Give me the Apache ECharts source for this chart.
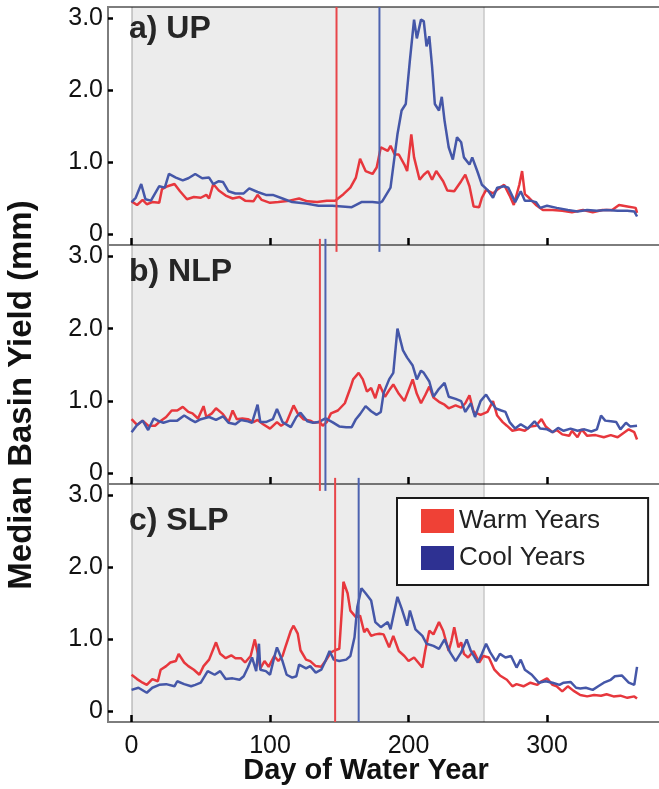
<!DOCTYPE html>
<html>
<head>
<meta charset="utf-8">
<script src="https://cdn.jsdelivr.net/npm/echarts@6/dist/echarts.min.js"></script>
<style>
  html, body { margin: 0; padding: 0; background: #fff; }
  #chart { width: 659px; height: 789px; }
</style>
</head>
<body>
<div id="chart"></div>
<script>
// day of water year, median basin yield (mm)
const upWarm = [[0,0.46],[4,0.41],[8,0.48],[11,0.42],[15,0.45],[20,0.44],[22,0.63],[26,0.67],[31,0.70],[35,0.60],[40,0.49],[45,0.52],[50,0.51],[54,0.55],[56,0.50],[59,0.70],[63,0.61],[68,0.54],[73,0.50],[78,0.52],[82,0.47],[88,0.46],[91,0.55],[94,0.48],[100,0.44],[106,0.45],[114,0.47],[121,0.50],[127,0.46],[134,0.45],[141,0.47],[147,0.47],[153,0.56],[158,0.65],[162,0.79],[165,1.05],[169,0.88],[174,0.84],[177,0.93],[180,1.21],[181,1.23],[185,1.16],[187,1.23],[190,1.11],[193,1.11],[197,0.97],[199,0.88],[202,1.39],[204,1.07],[208,0.76],[211,0.83],[214,0.88],[217,0.76],[220,0.88],[225,0.74],[228,0.61],[233,0.60],[238,0.74],[241,0.83],[244,0.67],[247,0.39],[251,0.38],[253,0.51],[256,0.62],[261,0.57],[264,0.62],[269,0.69],[273,0.54],[276,0.41],[280,0.69],[282,0.88],[284,0.56],[287,0.51],[292,0.41],[297,0.34],[304,0.34],[311,0.33],[318,0.31],[326,0.34],[333,0.31],[340,0.34],[347,0.34],[352,0.41],[358,0.39],[364,0.37],[365,0.30]];
const upCool = [[0,0.45],[3,0.51],[7,0.70],[10,0.49],[14,0.47],[20,0.67],[24,0.65],[27,0.84],[32,0.79],[37,0.75],[41,0.78],[46,0.84],[51,0.78],[56,0.79],[59,0.70],[63,0.74],[66,0.73],[70,0.60],[75,0.57],[81,0.57],[85,0.64],[91,0.59],[97,0.55],[102,0.55],[109,0.50],[116,0.45],[126,0.43],[135,0.40],[145,0.40],[152,0.39],[159,0.38],[166,0.45],[174,0.45],[179,0.44],[181,0.46],[187,0.65],[192,1.39],[195,1.72],[198,1.81],[201,2.42],[204,2.98],[206,2.72],[209,2.98],[211,2.96],[213,2.61],[215,2.75],[217,2.33],[219,1.81],[222,1.72],[224,1.91],[226,1.58],[229,1.21],[232,1.04],[235,1.35],[238,1.28],[240,1.07],[244,0.97],[246,1.07],[250,0.86],[253,0.69],[257,0.62],[261,0.51],[264,0.65],[269,0.67],[272,0.65],[277,0.45],[281,0.60],[284,0.47],[288,0.47],[292,0.45],[295,0.37],[300,0.40],[307,0.37],[315,0.34],[322,0.32],[329,0.34],[336,0.33],[343,0.34],[351,0.33],[358,0.33],[363,0.32],[365,0.25]];

const nlpWarm = [[0,0.75],[4,0.67],[8,0.73],[12,0.66],[17,0.66],[20,0.71],[25,0.78],[29,0.87],[33,0.87],[37,0.92],[41,0.85],[44,0.83],[48,0.76],[52,0.93],[54,0.78],[58,0.83],[61,0.90],[66,0.82],[70,0.71],[73,0.87],[76,0.75],[80,0.76],[84,0.75],[88,0.71],[91,0.74],[95,0.68],[100,0.62],[105,0.71],[108,0.66],[112,0.71],[117,0.94],[120,0.83],[124,0.75],[129,0.73],[132,0.70],[136,0.71],[138,0.66],[141,0.71],[144,0.83],[149,0.87],[154,0.97],[158,1.18],[160,1.30],[164,1.39],[167,1.30],[170,1.13],[173,1.18],[176,1.04],[179,1.23],[183,1.06],[186,1.15],[189,1.23],[193,1.10],[197,1.00],[203,1.30],[206,1.10],[209,0.97],[212,1.08],[215,1.20],[218,1.05],[222,0.99],[226,0.95],[229,0.90],[234,0.94],[238,0.91],[241,0.97],[244,1.08],[247,0.85],[252,0.81],[257,0.85],[261,1.00],[264,0.80],[268,0.71],[271,0.66],[275,0.59],[280,0.61],[284,0.59],[288,0.65],[292,0.66],[296,0.75],[299,0.65],[304,0.57],[307,0.60],[311,0.54],[316,0.52],[318,0.59],[322,0.50],[325,0.61],[329,0.52],[335,0.53],[341,0.50],[346,0.53],[351,0.50],[356,0.57],[359,0.61],[363,0.57],[365,0.47]];
const nlpCool = [[0,0.57],[4,0.67],[8,0.73],[12,0.60],[16,0.76],[20,0.72],[23,0.70],[28,0.73],[33,0.73],[38,0.80],[43,0.74],[46,0.71],[50,0.75],[56,0.78],[61,0.74],[66,0.79],[70,0.70],[75,0.68],[79,0.74],[84,0.72],[87,0.70],[91,0.95],[93,0.71],[97,0.71],[102,0.75],[105,0.89],[109,0.71],[115,0.64],[119,0.78],[122,0.84],[127,0.72],[131,0.70],[135,0.71],[140,0.76],[145,0.71],[150,0.65],[155,0.64],[159,0.64],[162,0.75],[165,0.82],[169,0.93],[173,0.86],[177,0.81],[180,0.85],[182,1.11],[186,1.30],[189,1.39],[192,2.00],[196,1.70],[199,1.60],[203,1.49],[206,1.30],[209,1.42],[211,1.39],[215,1.27],[218,1.06],[222,1.17],[226,1.25],[229,1.06],[234,1.03],[238,1.00],[241,0.85],[245,0.97],[248,0.78],[252,1.00],[256,1.09],[259,1.00],[263,0.90],[267,0.87],[270,0.85],[273,0.71],[277,0.62],[281,0.68],[286,0.62],[291,0.72],[295,0.62],[300,0.61],[304,0.57],[308,0.63],[312,0.59],[317,0.62],[322,0.59],[327,0.61],[332,0.58],[336,0.61],[339,0.80],[342,0.73],[346,0.72],[350,0.71],[353,0.61],[357,0.70],[360,0.65],[365,0.66]];

const slpWarm = [[0,0.51],[4,0.45],[8,0.40],[11,0.37],[15,0.45],[19,0.42],[21,0.58],[25,0.63],[28,0.68],[32,0.70],[34,0.80],[38,0.68],[41,0.63],[45,0.58],[49,0.51],[52,0.63],[56,0.72],[61,0.96],[64,0.80],[68,0.74],[72,0.78],[75,0.74],[79,0.74],[82,0.68],[86,0.77],[89,1.00],[91,0.82],[93,0.60],[96,0.70],[99,0.62],[103,0.77],[106,0.70],[109,0.77],[111,0.89],[115,1.12],[117,1.19],[120,1.08],[122,0.85],[126,0.72],[129,0.70],[133,0.63],[137,0.62],[140,0.70],[144,0.82],[147,0.85],[150,0.87],[152,1.45],[153,1.80],[156,1.64],[158,1.40],[162,1.31],[165,1.33],[168,1.10],[170,1.15],[173,1.05],[176,1.07],[179,1.08],[182,1.07],[186,0.89],[189,1.05],[193,0.84],[197,0.77],[200,0.70],[204,0.75],[207,0.68],[210,0.61],[212,0.84],[215,1.12],[218,1.07],[222,1.24],[225,1.12],[229,0.84],[231,0.98],[233,1.17],[236,0.89],[238,0.96],[240,0.80],[243,0.75],[247,0.84],[251,0.68],[254,0.77],[258,0.75],[262,0.58],[266,0.50],[271,0.44],[275,0.35],[278,0.38],[283,0.35],[288,0.40],[293,0.37],[296,0.42],[300,0.46],[304,0.37],[307,0.35],[311,0.28],[315,0.35],[319,0.29],[324,0.23],[329,0.21],[334,0.23],[339,0.22],[343,0.24],[348,0.21],[353,0.22],[358,0.19],[363,0.21],[365,0.18]];
const slpCool = [[0,0.30],[5,0.33],[11,0.26],[15,0.33],[20,0.37],[25,0.38],[31,0.35],[33,0.42],[38,0.38],[43,0.35],[46,0.37],[50,0.40],[55,0.56],[60,0.51],[64,0.56],[68,0.45],[73,0.46],[78,0.44],[81,0.49],[84,0.61],[87,0.75],[90,0.56],[92,0.94],[93,0.58],[97,0.56],[100,0.51],[103,0.75],[105,0.89],[109,0.70],[112,0.51],[116,0.47],[119,0.49],[121,0.65],[126,0.60],[129,0.63],[133,0.54],[137,0.58],[140,0.70],[143,0.84],[146,0.72],[150,0.70],[155,0.72],[158,0.77],[161,1.03],[163,1.45],[166,1.71],[169,1.64],[173,1.54],[176,1.24],[180,1.17],[185,1.24],[187,1.14],[192,1.59],[195,1.43],[199,1.19],[201,1.40],[205,1.14],[210,1.05],[213,0.94],[218,0.91],[222,0.87],[226,1.00],[230,0.82],[234,0.70],[238,0.82],[242,1.00],[245,0.84],[250,0.68],[253,0.80],[256,0.94],[259,0.82],[263,0.70],[266,0.80],[270,0.75],[274,0.77],[278,0.61],[281,0.72],[284,0.58],[289,0.51],[294,0.40],[299,0.42],[304,0.40],[309,0.37],[312,0.40],[317,0.41],[321,0.33],[324,0.32],[328,0.33],[333,0.30],[337,0.35],[341,0.40],[346,0.44],[349,0.49],[354,0.50],[359,0.40],[363,0.37],[365,0.62]];

const panelNames = ['a) UP', 'b) NLP', 'c) SLP'];
const warmData = [upWarm, nlpWarm, slpWarm];
const coolData = [upCool, nlpCool, slpCool];
// vertical lines (day) per panel
const onsetWarm = [148, 136, 147];
const onsetCool = [179, 140, 164];
const shadeEnd = 254;
const xTicks = [0, 100, 200, 300];
const yTicks = [0, 1, 2, 3];

const FONT = '"Liberation Sans", Arial, sans-serif';
const RED = '#e7373d', BLUE = '#4557a8';
const tops = [7, 245, 484], heights = [238, 239, 238];
const titleY = [31, 274, 523];
const yMin = -0.145, yMax = 3.155;

const grids = [], xAxes = [], yAxes = [], series = [], texts = [];

for (let i = 0; i < 3; i++) {
  grids.push({
    left: 108, top: tops[i], width: 562, height: heights[i],
    outerBoundsMode: 'none', containLabel: false,
    show: true, borderColor: '#7d7d7d', borderWidth: 2
  });
  xAxes.push({
    gridIndex: i, type: 'value', min: -17, max: 388.8, z: 6,
    axisLine: { show: false, onZero: false }, splitLine: { show: false },
    axisTick: { show: true, inside: true, length: 7, customValues: xTicks,
      lineStyle: { color: '#000', width: 2.5 } },
    axisLabel: { show: i === 2, customValues: xTicks, fontSize: 25,
      fontFamily: FONT, color: '#111', margin: 12 }
  });
  yAxes.push({
    gridIndex: i, type: 'value', min: yMin, max: yMax, z: 6,
    axisLine: { show: false, onZero: false }, splitLine: { show: false },
    axisTick: { show: true, inside: true, length: 5, customValues: yTicks,
      lineStyle: { color: '#000', width: 2.5 } },
    axisLabel: { customValues: yTicks, fontSize: 25, fontFamily: FONT,
      color: '#111', margin: 5,
      formatter: v => (v === 0 ? '0' : v.toFixed(1)) }
  });

  // shaded period (translucent so the axis ticks stay visible)
  series.push({
    name: 'shade' + i, type: 'line', xAxisIndex: i, yAxisIndex: i,
    data: [], symbol: 'none', z: 1, silent: true,
    markArea: {
      silent: true, z: 1,
      itemStyle: { color: 'rgba(0,0,0,0.075)' },
      data: [[{ xAxis: 0, yAxis: yMin }, { xAxis: shadeEnd, yAxis: yMax }]]
    },
    markLine: {
      silent: true, z: 2, symbol: 'none', label: { show: false },
      lineStyle: { color: 'rgba(0,0,0,0.16)', width: 2, type: 'solid' },
      data: [{ xAxis: 0 }, { xAxis: shadeEnd }]
    }
  });
  series.push({
    name: 'Warm Years', type: 'line', xAxisIndex: i, yAxisIndex: i,
    data: warmData[i], symbol: 'none', z: 3,
    lineStyle: { color: RED, width: 2.5 },
    itemStyle: { color: '#ef4136' }
  });
  series.push({
    name: 'Cool Years', type: 'line', xAxisIndex: i, yAxisIndex: i,
    data: coolData[i], symbol: 'none', z: 4,
    lineStyle: { color: BLUE, width: 2.5 },
    itemStyle: { color: '#2e3192' }
  });

  const lo = i === 2 ? yMin : -0.24;
  const hi = i === 0 ? yMax : 3.24;
  series.push({
    name: 'onsetWarm' + i, type: 'line', xAxisIndex: i, yAxisIndex: i,
    data: [[onsetWarm[i], lo], [onsetWarm[i], hi]], symbol: 'none', clip: false,
    silent: true, z: 5, lineStyle: { color: '#e8464a', width: 2 }
  });
  series.push({
    name: 'onsetCool' + i, type: 'line', xAxisIndex: i, yAxisIndex: i,
    data: [[onsetCool[i], lo], [onsetCool[i], hi]], symbol: 'none', clip: false,
    silent: true, z: 5, lineStyle: { color: '#4d63b0', width: 2 }
  });

  texts.push({
    type: 'text', left: 129, top: titleY[i] - 18, z: 10,
    style: { text: panelNames[i], font: 'bold 32px ' + FONT, fill: '#262626' }
  });
}

texts.push({
  type: 'text', x: 22, y: 395, rotation: Math.PI / 2, z: 10,
  style: { text: 'Median Basin Yield (mm)', font: 'bold 33px ' + FONT,
    fill: '#111', textAlign: 'center', textVerticalAlign: 'middle' }
});
texts.push({
  type: 'text', x: 366, y: 771, z: 10,
  style: { text: 'Day of Water Year', font: 'bold 29px ' + FONT,
    fill: '#111', textAlign: 'center', textVerticalAlign: 'middle' }
});

const chart = echarts.init(document.getElementById('chart'));
chart.setOption({
  animation: false,
  backgroundColor: '#fff',
  grid: grids,
  xAxis: xAxes,
  yAxis: yAxes,
  legend: {
    left: 397, top: 498, orient: 'vertical',
    data: [
      { name: 'Warm Years', icon: 'rect', itemStyle: { color: '#ef4136' } },
      { name: 'Cool Years', icon: 'rect', itemStyle: { color: '#2e3192' } }
    ],
    itemWidth: 33, itemHeight: 24, itemGap: 11,
    padding: [10, 48, 14, 24],
    backgroundColor: '#fff', borderColor: '#1a1a1a', borderWidth: 2, borderRadius: 0,
    selectedMode: false,
    textStyle: { fontSize: 26, fontFamily: FONT, color: '#222' }
  },
  graphic: texts,
  series: series
});
</script>
</body>
</html>
